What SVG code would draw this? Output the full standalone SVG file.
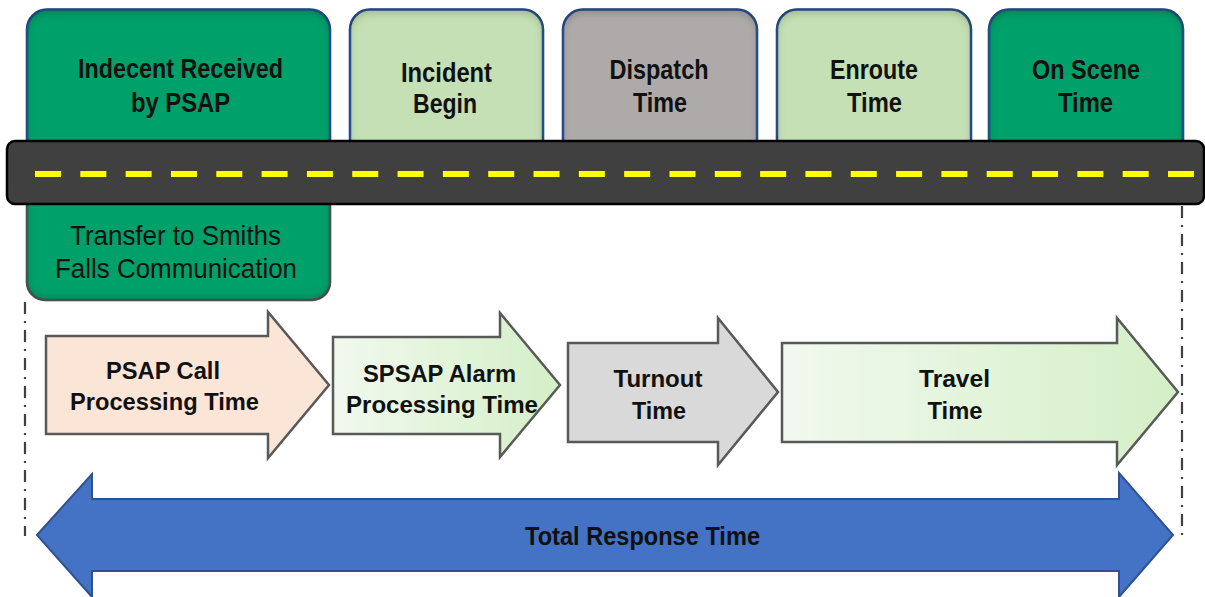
<svg xmlns="http://www.w3.org/2000/svg" width="1205" height="597" viewBox="0 0 1205 597">
  <defs>
    <style>
      .box { stroke: #2F5597; stroke-width: 2.5; }
      .dark-green { fill: #00A06B; }
      .light-green { fill: #C5E0B4; }
      .grey { fill: #AEAAAA; }
      .lbl { font-family: "Liberation Sans", Arial, sans-serif; font-weight: bold; fill: #111; text-anchor: middle; }
      .top-lbl { font-size: 27px; }
      .arr-lbl { font-size: 24px; }
      .sub-lbl { font-family: "Liberation Sans", Arial, sans-serif; font-size: 28px; fill: #111; text-anchor: middle; }
      .step { stroke: #595959; stroke-width: 2.5; stroke-linejoin: miter; }
      .guide { stroke: #404040; stroke-width: 2.2; stroke-dasharray: 12 7 2 7; fill: none; }
    </style>
    <!-- soft inner shading along the top edge of the milestone boxes -->
    <filter id="innerTop" x="-5%" y="-5%" width="110%" height="110%">
      <feFlood flood-color="#000" flood-opacity="0.5"/>
      <feComposite in2="SourceAlpha" operator="out"/>
      <feGaussianBlur stdDeviation="4"/>
      <feOffset dy="4"/>
      <feComposite in2="SourceAlpha" operator="in" result="shade"/>
      <feMerge><feMergeNode in="SourceGraphic"/><feMergeNode in="shade"/></feMerge>
    </filter>
    <!-- inner shading along the bottom edge -->
    <filter id="innerBottom" x="-5%" y="-5%" width="110%" height="110%">
      <feFlood flood-color="#000" flood-opacity="0.5"/>
      <feComposite in2="SourceAlpha" operator="out"/>
      <feGaussianBlur stdDeviation="4"/>
      <feOffset dy="-3"/>
      <feComposite in2="SourceAlpha" operator="in" result="shade"/>
      <feMerge><feMergeNode in="SourceGraphic"/><feMergeNode in="shade"/></feMerge>
    </filter>
    <linearGradient id="paleGreen" x1="0" y1="0" x2="1" y2="0">
      <stop offset="0" stop-color="#F1F9EE"/>
      <stop offset="1" stop-color="#D4EFC7"/>
    </linearGradient>
  </defs>

  <rect width="1205" height="597" fill="#ffffff"/>

  <!-- milestone boxes above the road -->
  <g id="node-received">
    <rect x="27" y="175" width="303" height="125" rx="18" class="dark-green" stroke="#5A5A5A" stroke-width="2.5" filter="url(#innerBottom)"/>
    <rect x="27" y="9.5" width="303" height="160" rx="20" class="box dark-green" filter="url(#innerTop)"/>
    <text class="lbl top-lbl" x="180.5" y="78" textLength="205" lengthAdjust="spacingAndGlyphs">Indecent Received</text>
    <text class="lbl top-lbl" x="180.5" y="112" textLength="99" lengthAdjust="spacingAndGlyphs">by PSAP</text>
  </g>
  <g id="node-incident">
    <rect x="350" y="9.5" width="193" height="160" rx="20" class="box light-green" filter="url(#innerTop)"/>
    <text class="lbl top-lbl" x="446.5" y="82" textLength="91" lengthAdjust="spacingAndGlyphs">Incident</text>
    <text class="lbl top-lbl" x="445" y="113" textLength="64" lengthAdjust="spacingAndGlyphs">Begin</text>
  </g>
  <g id="node-dispatch">
    <rect x="563" y="9.5" width="194" height="160" rx="20" class="box grey" filter="url(#innerTop)"/>
    <text class="lbl top-lbl" x="659" y="79" textLength="99" lengthAdjust="spacingAndGlyphs">Dispatch</text>
    <text class="lbl top-lbl" x="660" y="112" textLength="54" lengthAdjust="spacingAndGlyphs">Time</text>
  </g>
  <g id="node-enroute">
    <rect x="777" y="9.5" width="194" height="160" rx="20" class="box light-green" filter="url(#innerTop)"/>
    <text class="lbl top-lbl" x="874" y="79" textLength="88" lengthAdjust="spacingAndGlyphs">Enroute</text>
    <text class="lbl top-lbl" x="874.5" y="112" textLength="55" lengthAdjust="spacingAndGlyphs">Time</text>
  </g>
  <g id="node-onscene">
    <rect x="989" y="9.5" width="194" height="160" rx="20" class="box dark-green" filter="url(#innerTop)"/>
    <text class="lbl top-lbl" x="1086" y="79" textLength="108" lengthAdjust="spacingAndGlyphs">On Scene</text>
    <text class="lbl top-lbl" x="1085.5" y="112" textLength="55" lengthAdjust="spacingAndGlyphs">Time</text>
  </g>

  <!-- road with centre markings -->
  <g id="road">
    <rect x="7" y="141" width="1197" height="63" rx="8" fill="#404040" stroke="#000" stroke-width="2.5"/>
    <line x1="35" y1="174" x2="1196" y2="174" stroke="#FFFF00" stroke-width="6" stroke-dasharray="26 19.32"/>
  </g>

  <!-- text of the lower part of the first box -->
  <g id="node-transfer">
    <text class="sub-lbl" x="175.5" y="245" textLength="211" lengthAdjust="spacingAndGlyphs">Transfer to Smiths</text>
    <text class="sub-lbl" x="176" y="278" textLength="242" lengthAdjust="spacingAndGlyphs">Falls Communication</text>
  </g>

  <!-- dash-dot extent guides -->
  <g id="connectors">
    <line class="guide" x1="25" y1="302" x2="25" y2="536"/>
    <line class="guide" x1="1182" y1="206" x2="1182" y2="537"/>
  </g>

  <!-- process step arrows -->
  <g id="node-psap-call">
    <path class="step" fill="#FBE5D6" d="M46,336 H268 V312 L329,385 L268,458 V434 H46 Z"/>
    <text class="lbl arr-lbl" x="163" y="379" textLength="114" lengthAdjust="spacingAndGlyphs">PSAP Call</text>
    <text class="lbl arr-lbl" x="164.5" y="410" textLength="189" lengthAdjust="spacingAndGlyphs">Processing Time</text>
  </g>
  <g id="node-spsap-alarm">
    <path class="step" fill="url(#paleGreen)" d="M333,337 H500 V313 L560,385 L500,457 V434 H333 Z"/>
    <text class="lbl arr-lbl" x="439.5" y="382" textLength="153" lengthAdjust="spacingAndGlyphs">SPSAP Alarm</text>
    <text class="lbl arr-lbl" x="442" y="413" textLength="192" lengthAdjust="spacingAndGlyphs">Processing Time</text>
  </g>
  <g id="node-turnout">
    <path class="step" fill="#D9D9D9" d="M568,343 H718 V318 L778,392 L718,465 V442 H568 Z"/>
    <text class="lbl arr-lbl" x="658" y="387" textLength="89" lengthAdjust="spacingAndGlyphs">Turnout</text>
    <text class="lbl arr-lbl" x="659" y="419" textLength="54" lengthAdjust="spacingAndGlyphs">Time</text>
  </g>
  <g id="node-travel">
    <path class="step" fill="url(#paleGreen)" d="M782,343 H1117 V318 L1178,392 L1117,465 V442 H782 Z"/>
    <text class="lbl arr-lbl" x="954.5" y="387" textLength="71" lengthAdjust="spacingAndGlyphs">Travel</text>
    <text class="lbl arr-lbl" x="955" y="419" textLength="55" lengthAdjust="spacingAndGlyphs">Time</text>
  </g>

  <!-- overall span -->
  <g id="node-total">
    <path fill="#4472C4" stroke="#2F528F" stroke-width="2" d="M37,535 L92,474 V499 H1119 V473 L1173,535 L1119,597 V571 H92 V597 Z"/>
    <text class="lbl" x="642.5" y="545" font-size="25.5" textLength="235" lengthAdjust="spacingAndGlyphs">Total Response Time</text>
  </g>
</svg>
